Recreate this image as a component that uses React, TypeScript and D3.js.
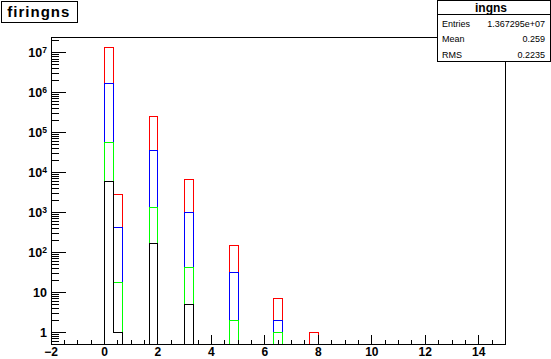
import { range, scaleLinear, scaleLog, stack, line, curveStepAfter, format } from 'd3';

// non-empty bins (low edges), bin width 1/3 on [-2, 15]
const binLow = [0, 1 / 3, 5 / 3, 3, 14 / 3, 19 / 3, 23 / 3];
const blackVals = [6000, 1, 170, 5, 0, 0, 0];
const greenVals = [50000, 17, 1160, 37, 2, 1, 0];
const blueVals = [1620000, 404, 34000, 958, 30, 1, 0];
const redVals = [11700000, 2400, 215000, 5700, 118, 5, 1];

const seriesKeys = ['black', 'green', 'blue', 'red'];
const seriesColors: Record<string, string> = { black: '#000000', green: '#00ff00', blue: '#0000ff', red: '#ff0000' };

const xTickLabels = [-2, 0, 2, 4, 6, 8, 10, 12, 14];
const yTickLabels = [1, 10, 100, 1e3, 1e4, 1e5, 1e6, 1e7];

const statRows = [
  ['Entries', '1.367295e+07'],
  ['Mean', '0.259'],
  ['RMS', '0.2235'],
];

const W = 551;
const H = 359;
const xMin = -2;
const xMax = 15;
const nBins = 51;
const binW = (xMax - xMin) / nBins;

const left = 51;
const right = 505.5;
const top = 37;
const bottom = 344;

const font = "'Liberation Sans', Arial, sans-serif";
const fmt = format('d');

export default function App() {
  const x = scaleLinear().domain([xMin, xMax]).range([left, right]);
  const y = scaleLog().domain([0.51, 2.5e7]).range([bottom, top]);

  const table = binLow.map((b, i) => ({
    low: b,
    black: blackVals[i],
    green: greenVals[i],
    blue: blueVals[i],
    red: redVals[i],
  }));
  const stacked = stack<any>().keys(seriesKeys)(table);

  // empty bins sit on the frame bottom (log axis)
  const yv = (v: number) => (v > 0 ? y(v) : bottom);

  const outline = line<[number, number]>()
    .x((d) => x(d[0]))
    .y((d) => yv(d[1]))
    .curve(curveStepAfter);

  const paths = stacked.map((s) => {
    const vals = range(nBins).map((j) => {
      const lo = xMin + j * binW;
      const idx = binLow.findIndex((b) => Math.abs(b - lo) < 1e-6);
      return idx < 0 ? 0 : s[idx][1];
    });
    const pts: [number, number][] = [[xMin, 0]];
    vals.forEach((v, j) => pts.push([xMin + j * binW, v]));
    pts.push([xMax, vals[nBins - 1]]);
    pts.push([xMax, 0]);
    return { key: s.key, d: outline(pts) as string };
  });

  // y ticks: 1..9 x 10^k inside the domain
  const yTicks: { v: number; major: boolean }[] = [];
  for (let k = -1; k <= 7; k++) {
    for (let m = 1; m <= 9; m++) {
      const v = m * Math.pow(10, k);
      if (v >= 0.51 && v <= 2.5e7) yTicks.push({ v, major: m === 1 });
    }
  }
  const xTicks = range(xMin, xMax + 0.001, 0.5).map((v) => ({ v, major: Math.abs(v % 2) < 1e-6 && v < 15 }));

  return (
    <svg width={W} height={H} style={{ position: 'absolute', left: 0, top: 0, background: '#fff' }}>
      <rect x={0} y={0} width={W} height={H} fill="#fff" />
      <g shapeRendering="crispEdges" fill="none" strokeWidth={1}>
        {[...paths].reverse().map((p) => (
          <path key={p.key} d={p.d} stroke={seriesColors[p.key]} />
        ))}
      </g>
      <g shapeRendering="crispEdges" stroke="#000" strokeWidth={1}>
        <rect x={left} y={top} width={right - left} height={bottom - top} fill="none" />
        {yTicks.map((t, i) => (
          <line key={'y' + i} x1={left} x2={left + (t.major ? 15 : 8)} y1={y(t.v)} y2={y(t.v)} />
        ))}
        {xTicks.map((t, i) => (
          <line key={'x' + i} x1={x(t.v)} x2={x(t.v)} y1={bottom} y2={bottom - (t.major ? 9 : 4)} />
        ))}
      </g>
      <g fontFamily={font} fontWeight="bold" fill="#000">
        {yTickLabels.map((v) => {
          const e = Math.round(Math.log10(v));
          const yy = y(v) + 4.5;
          if (e < 2)
            return (
              <text key={v} x={47} y={yy} fontSize={12.5} textAnchor="end">
                {fmt(v)}
              </text>
            );
          return (
            <text key={v} x={47} y={yy} fontSize={12.5} textAnchor="end">
              10
              <tspan fontSize={8.5} dy={-4}>
                {e}
              </tspan>
            </text>
          );
        })}
        {xTickLabels.map((v) => (
          <text key={v} x={x(v)} y={355.5} fontSize={12} textAnchor="middle">
            {fmt(v)}
          </text>
        ))}
      </g>
      <g shapeRendering="crispEdges">
        <rect x={1.5} y={1.5} width={76} height={20.5} fill="#fff" stroke="#000" />
        <rect x={437.5} y={0.5} width={113} height={61} fill="#fff" stroke="#000" />
        <line x1={437.5} x2={551} y1={14.5} y2={14.5} stroke="#000" />
      </g>
      <text x={7.3} y={17.3} fontFamily={font} fontWeight="bold" fontSize={15} textLength={62} lengthAdjust="spacing">
        firingns
      </text>
      <text x={491} y={11.5} fontFamily={font} fontWeight="bold" fontSize={12} textAnchor="middle">
        ingns
      </text>
      {statRows.map((r, i) => (
        <g key={r[0]} fontFamily={font} fontSize={9}>
          <text x={442} y={26.5 + i * 15.8}>{r[0]}</text>
          <text x={545} y={26.5 + i * 15.8} textAnchor="end">
            {r[1]}
          </text>
        </g>
      ))}
    </svg>
  );
}
